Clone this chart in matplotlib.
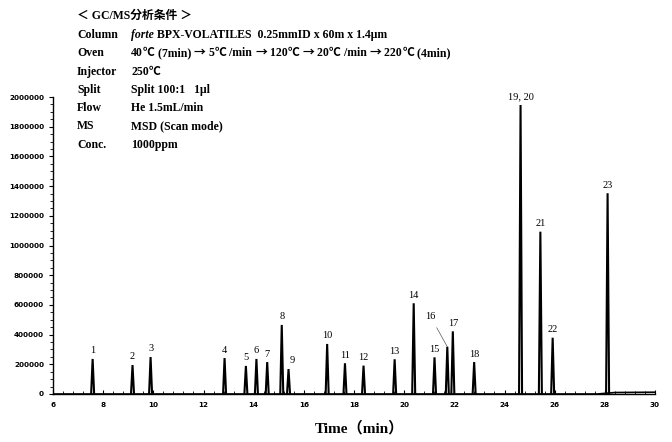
import matplotlib
matplotlib.use("Agg")
import matplotlib.pyplot as plt
from matplotlib.ticker import AutoMinorLocator

# peak table
peak_labels = ['1', '2', '3', '4', '5', '6', '7', '8', '9', '10', '11', '12',
               '13', '14', '15', '16', '17', '18', '19, 20', '21', '22', '23']
peak_times = [7.58, 9.17, 9.89, 12.84, 13.69, 14.11, 14.54, 15.12, 15.39, 16.93, 17.64, 18.38,
              19.62, 20.38, 21.21, 21.72, 21.94, 22.79, 24.64, 25.43, 25.92, 28.11]
peak_heights = [236000, 195000, 249000, 242000, 189000, 236000, 215000, 465000, 168000, 337000,
                207000, 191000, 234000, 611000, 247000, 318000, 422000, 215000, 1946000,
                1093000, 379000, 1352000]

# baseline drift at the end of the run
base_times = [6, 27.7, 28.4, 30]
base_levels = [0, 0, 10000, 12000]

x_ticks = [6, 8, 10, 12, 14, 16, 18, 20, 22, 24, 26, 28, 30]
y_ticks = [0, 200000, 400000, 600000, 800000, 1000000, 1200000, 1400000, 1600000, 1800000, 2000000]

cond_names = ['Column', 'Oven', 'Injector', 'Split', 'Flow', 'MS', 'Conc.']
cond_values = [' BPX-VOLATILES  0.25mmID x 60m x 1.4μm',
               '40℃ (7min) → 5℃ /min → 120℃ → 20℃ /min → 220℃ (4min)',
               '250℃',
               'Split 100:1   1μl',
               'He 1.5mL/min',
               'MSD (Scan mode)',
               '1000ppm']

serif = ['Liberation Serif', 'Noto Sans CJK JP', 'DejaVu Sans']
cjk = ['Noto Sans CJK JP', 'DejaVu Sans']
wide_chars = '℃→'

W, H = 672, 442
fig = plt.figure(figsize=(W / 100, H / 100), dpi=100)
ax = fig.add_axes([53 / W, 1 - 394 / H, (655 - 53) / W, (394 - 97) / H])
renderer = fig.canvas.get_renderer()


def put_line(x_px, y_px, text, italic_head=None):
    """write one header line piece by piece, wide symbols in the CJK font"""
    pieces = []
    if italic_head:
        pieces.append((italic_head, serif, 'italic'))
    buf = ''
    for ch in text:
        if ch in wide_chars:
            if buf:
                pieces.append((buf, serif, 'normal'))
                buf = ''
            pieces.append((ch, cjk, 'normal'))
        else:
            buf += ch
    if buf:
        pieces.append((buf, serif, 'normal'))
    x = x_px
    for s, fam, st in pieces:
        t = fig.text(x / W, 1 - y_px / H, s, family=fam, style=st, fontweight='bold',
                     fontsize=8.5, va='baseline', ha='left')
        x = t.get_window_extent(renderer).x1


# peaks as narrow outlines
half = 0.06
for t, h in zip(peak_times, peak_heights):
    ax.plot([t - half, t, t + half], [0, h, 0], color='black', lw=1.5, solid_joinstyle='miter')
ax.plot(base_times, base_levels, color='black', lw=1.2)

# peak numbers
for lab, t, h in zip(peak_labels, peak_times, peak_heights):
    if lab == '16':
        ax.annotate(lab, xy=(t, h), xytext=(-12, 21.6), textcoords='offset points',
                    ha='center', va='center', fontsize=7.5, family=serif,
                    arrowprops=dict(arrowstyle='-', color='#555555', lw=0.5,
                                    shrinkA=3, shrinkB=0))
    else:
        dx = 2.5 if lab == '9' else 0
        ax.annotate(lab, xy=(t, h), xytext=(dx, 5.8), textcoords='offset points',
                    ha='center', va='center', fontsize=7.5, family=serif, annotation_clip=False)

ax.set_xlim(6, 30)
ax.set_ylim(0, 2000000)
ax.set_xticks(x_ticks)
ax.set_yticks(y_ticks)
ax.set_xticklabels([str(v) for v in x_ticks])
ax.set_yticklabels([str(v) for v in y_ticks])
ax.xaxis.set_minor_locator(AutoMinorLocator(5))
ax.yaxis.set_minor_locator(AutoMinorLocator(4))
for lab in ax.get_xticklabels() + ax.get_yticklabels():
    lab.set_fontsize(5.2)
    lab.set_fontweight('bold')
ax.tick_params(axis='x', which='major', direction='in', length=3, width=0.8, pad=5.5)
ax.tick_params(axis='x', which='minor', direction='in', length=2, width=0.6)
ax.tick_params(axis='y', which='major', direction='out', length=3, width=0.8, pad=3.5)
ax.tick_params(axis='y', which='minor', direction='out', length=2, width=0.6)
for s in ['top', 'right']:
    ax.spines[s].set_visible(False)
for s in ['left', 'bottom']:
    ax.spines[s].set_linewidth(1.0)

fig.text(359 / W, 1 - 428 / H, 'Time（min）', family=serif, fontweight='bold', fontsize=11,
         ha='center', va='center')

# analysis conditions header
fig.text(77 / W, 1 - 16 / H, '＜ GC/MS分析条件 ＞', family=serif, fontweight='bold',
         fontsize=8.5, va='center')
row_y = [38, 56, 75, 93, 111, 129, 148]
for name, val, y in zip(cond_names, cond_values, row_y):
    fig.text(77 / W, 1 - y / H, name, family=serif, fontweight='bold', fontsize=8.5, va='baseline')
    put_line(131, y, val, italic_head='forte' if name == 'Column' else None)

fig.savefig('out.png', dpi=100)
